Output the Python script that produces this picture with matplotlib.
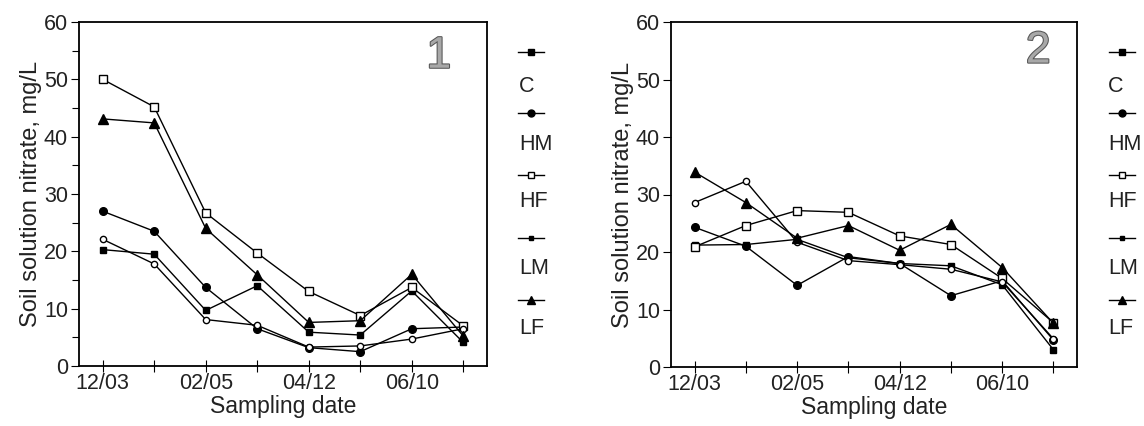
import matplotlib
matplotlib.use("Agg")
import matplotlib.pyplot as plt
from matplotlib.lines import Line2D
import matplotlib.patheffects as pe

plt.rcParams['font.family'] = ['Liberation Sans', 'DejaVu Sans']

# sampling index (8 sampling dates)
x_idx = [0, 1, 2, 3, 4, 5, 6, 7]
tick_labels = ["12/03", "", "02/05", "", "04/12", "", "06/10", ""]
series_names = ["C", "HM", "HF", "LM", "LF"]

# Panel 1
p1_C  = [20.3, 19.5, 9.7, 14.0, 5.9, 5.4, 13.1, 4.1]
p1_HM = [27.0, 23.5, 13.7, 6.5, 3.2, 2.5, 6.5, 6.8]
p1_HF = [50.0, 45.2, 26.7, 19.7, 13.0, 8.8, 13.7, 7.0]
p1_LM = [22.1, 17.8, 8.1, 7.1, 3.3, 3.5, 4.7, 6.5]
p1_LF = [43.1, 42.4, 24.0, 15.9, 7.6, 7.9, 16.0, 5.2]

# Panel 2
p2_C  = [21.2, 21.3, 22.2, 19.0, 18.0, 17.6, 14.3, 3.0]
p2_HM = [24.3, 21.0, 14.2, 19.2, 18.0, 12.4, 15.0, 4.7]
p2_HF = [20.9, 24.6, 27.2, 26.9, 22.8, 21.3, 15.4, 7.7]
p2_LM = [28.6, 32.3, 21.7, 18.5, 17.8, 17.0, 14.8, 4.9]
p2_LF = [33.9, 28.6, 22.4, 24.6, 20.3, 24.8, 17.3, 7.6]

panels = [
    ("1", [p1_C, p1_HM, p1_HF, p1_LM, p1_LF]),
    ("2", [p2_C, p2_HM, p2_HF, p2_LM, p2_LF]),
]

styles = {
    "C":  dict(marker='s', markersize=5, markerfacecolor='black'),
    "HM": dict(marker='o', markersize=5.5, markerfacecolor='black'),
    "HF": dict(marker='s', markersize=6, markerfacecolor='white'),
    "LM": dict(marker='o', markersize=4.5, markerfacecolor='white'),
    "LF": dict(marker='^', markersize=6.5, markerfacecolor='black'),
}
legend_styles = {
    "C":  dict(marker='s', markersize=5, markerfacecolor='black'),
    "HM": dict(marker='o', markersize=5, markerfacecolor='black'),
    "HF": dict(marker='s', markersize=5, markerfacecolor='white'),
    "LM": dict(marker='s', markersize=3.5, markerfacecolor='black'),
    "LF": dict(marker='^', markersize=5.5, markerfacecolor='black'),
}

W, H = 1144, 426
fig = plt.figure(figsize=(W / 100, H / 100), dpi=100)

axes_rects = [
    [79 / W, 1 - 366 / H, (487 - 79) / W, (366 - 22) / H],
    [671 / W, 1 - 367 / H, (1077 - 671) / W, (367 - 22) / H],
]
num_pos = [(0.912, 0.96), (0.935, 0.975)]
legend_x = [(531, 519), (1122, 1108)]
marker_y = [52, 113, 175, 238, 300]
text_y = [87, 144, 202, 268, 328]
txtcol = '#222222'
FS = 15.5

for i, ((num, data), rect) in enumerate(zip(panels, axes_rects)):
    ax = fig.add_axes(rect)
    for name, vals in zip(series_names, data):
        ax.plot(x_idx, vals, color='black', linewidth=1.0,
                markeredgecolor='black', markeredgewidth=1.0, **styles[name])
    ax.set_xlim(-0.46, 7.46)
    ax.set_ylim(0, 60)
    ax.set_xticks(x_idx)
    ax.set_xticklabels(tick_labels, fontsize=FS, color=txtcol)
    ax.set_yticks([0, 10, 20, 30, 40, 50, 60])
    ax.set_yticklabels(["0", "10", "20", "30", "40", "50", "60"], fontsize=FS, color=txtcol)
    if i == 0:
        ax.set_yticks([5, 15, 25, 35, 45, 55], minor=True)
        ax.tick_params(axis='y', which='minor', length=5, width=0.8, direction='out')
    ax.tick_params(axis='x', direction='inout', length=8, width=0.8, pad=1)
    ax.tick_params(axis='y', which='major', direction='out', length=6, width=0.8, pad=2)
    for sp in ax.spines.values():
        sp.set_linewidth(1.3)
        sp.set_color('black')
    ax.set_xlabel("Sampling date", fontsize=16.5, color=txtcol, labelpad=1)
    ax.set_ylabel("Soil solution nitrate, mg/L", fontsize=17, color=txtcol, labelpad=1)
    ax.text(num_pos[i][0], num_pos[i][1], num, transform=ax.transAxes, ha='right', va='top',
            fontsize=32, color='#a8a8a8',
            path_effects=[pe.withStroke(linewidth=1.5, foreground='#555555')])

    # manual legend
    lx, tx = legend_x[i]
    for name, my, ty in zip(series_names, marker_y, text_y):
        ln = Line2D([(lx - 13) / W, (lx + 13) / W], [1 - my / H, 1 - my / H],
                    transform=fig.transFigure, color='black', linewidth=1.0)
        fig.add_artist(ln)
        mk = Line2D([lx / W], [1 - my / H], transform=fig.transFigure,
                    linestyle='none', markeredgecolor='black', markeredgewidth=1.0,
                    **legend_styles[name])
        fig.add_artist(mk)
        fig.text(tx / W, 1 - ty / H, name, fontsize=FS, color=txtcol,
                 ha='left', va='center')

fig.savefig("out.png", dpi=100)
